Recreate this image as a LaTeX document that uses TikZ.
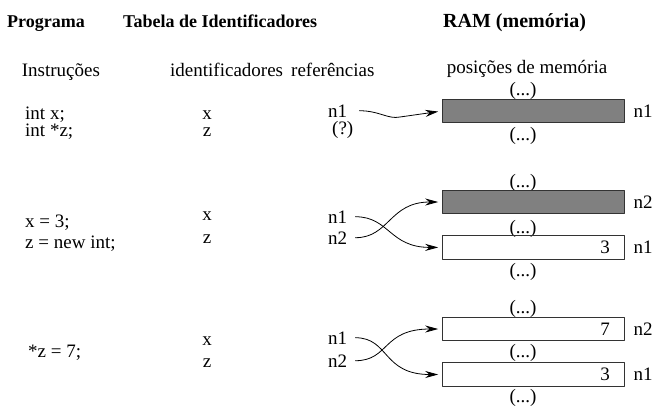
\documentclass[tikz,border=0pt]{standalone}
\usepackage{fontspec}
\setmainfont{Liberation Serif}
\usetikzlibrary{arrows.meta,positioning}
\tikzset{
	txt/.style={inner sep=0pt, anchor=base west},
	ctxt/.style={inner sep=0pt, anchor=base},
	titulo/.style={inner sep=0pt, anchor=base west, font=\fontsize{18}{21}\selectfont\bfseries},
	celula/.style={draw=black!80, line width=0.9pt, minimum width=181.3pt, minimum height=23.4pt, inner ysep=0pt, inner xsep=14pt, text width=153.3pt, align=right},
	cheia/.style={celula, fill=black!50},
	ligacao/.style={->, line width=0.8pt, shorten <=8pt, shorten >=4pt}
}
\begin{document}
\begin{tikzpicture}[x=1pt, y=-1pt, >={Stealth[length=13pt,width=7pt]}, font=\fontsize{19}{22}\selectfont, line join=round, line cap=round]
	\useasboundingbox (0,0) rectangle (652,408);
	%Títulos
	\node[titulo] (tProg) at (7,27) {Programa};
	\node[titulo] (tTab) at (123,27) {Tabela de Identificadores};
	\node[titulo, font=\fontsize{20}{23}\selectfont\bfseries] (tRam) at (443,27) {RAM (memória)};
	%Cabeçalhos das colunas
	\node[txt] (hInst) at (21.7,76) {Instruções};
	\node[txt] (hIdent) at (170,76) {identificadores};
	\node[txt] (hRef) at (291,76) {referências};
	\node[ctxt] (hPos) at (527,73) {posições de memória};
	%Instruções do programa
	\node[txt] (s1) at (25,119) {int x;};
	\node[txt] (s2) at (25,136) {int *z;};
	\node[txt] (s3) at (25,227) {x = 3;};
	\node[txt] (s4) at (25,248) {z = new int;};
	\node[txt] (s5) at (28,357) {*z = 7;};
	%Identificadores
	\foreach \y/\t in {119/x,136/z,220/x,243/z,345/x,367/z}
	\node[ctxt] (i\y) at (207,\y) {\t};
	%Referências
	\node[txt] (a1) at (328,117) {n1};
	\node[txt] (a2) at (332,134) {(?)};
	\node[txt] (b1) at (328,223) {n1};
	\node[txt] (b2) at (328,244) {n2};
	\node[txt] (c1) at (328,344) {n1};
	\node[txt] (c2) at (328,367) {n2};
	%Posições de memória
	\foreach \y [count=\i] in {95,140,187,233,276,313,357,402}
	\node[ctxt] (p\i) at (523,\y) {(...)};
	\node[cheia] (m1) at (533.3,111) {};
	\node[cheia] (m2) at (533.3,202) {};
	\node[celula] (m3) at (533.3,247.4) {3};
	\node[celula] (m4) at (533.3,329) {7};
	\node[celula] (m5) at (533.3,374.5) {3};
	\foreach \m/\r in {m1/n1,m2/n2,m3/n1,m4/n2,m5/n1}
	\node[right=9pt of \m, inner sep=0pt] (r\m) {\r};
	%Ligações
	\coordinate (d1) at (400,117);
	\draw[ligacao, shorten <=12pt] (a1.east) .. controls +(32,0) and +(-12,2.5) .. (d1) -- (m1.west);
	\draw[ligacao] (b1.east) .. controls +(42,0) and +(-53,0) .. (m3.west);
	\draw[ligacao] (b2.east) .. controls +(42,0) and +(-53,0) .. (m2.west);
	\draw[ligacao] (c1.east) .. controls +(42,0) and +(-60,0) .. (m5.west);
	\draw[ligacao] (c2.east) .. controls +(42,0) and +(-60,0) .. (m4.west);
\end{tikzpicture}
\end{document}
